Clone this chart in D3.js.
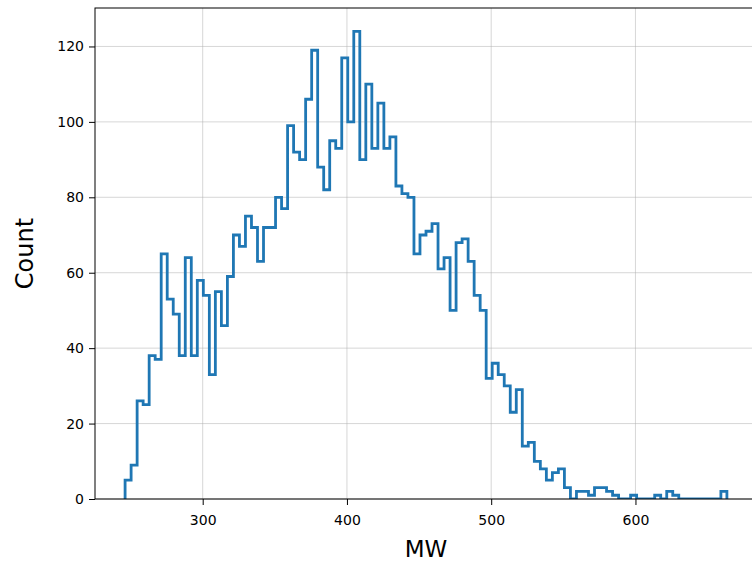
<!DOCTYPE html>
<html>
<head>
<meta charset="utf-8">
<script src="https://cdn.jsdelivr.net/npm/d3@7"></script>
<style>
  body { margin: 0; background: #fff; }
  svg { display: block; }
  text { font-family: "DejaVu Sans", sans-serif; fill: #000; }
</style>
</head>
<body>
<div id="chart"></div>
<script>
// histogram counts per bin (100 bins)
const counts = [
  5, 9, 26, 25, 38, 37, 65, 53, 49, 38,
  64, 38, 58, 54, 33, 55, 46, 59, 70, 67,
  75, 72, 63, 72, 72, 80, 77, 99, 92, 90,
  106, 119, 88, 82, 95, 93, 117, 100, 124, 90,
  110, 93, 105, 93, 96, 83, 81, 80, 65, 70,
  71, 73, 61, 64, 50, 68, 69, 63, 54, 50,
  32, 36, 33, 30, 23, 29, 14, 15, 10, 8,
  5, 7, 8, 3, 0, 2, 2, 1, 3, 3,
  2, 1, 0, 0, 1, 0, 0, 0, 1, 0,
  2, 1, 0, 0, 0, 0, 0, 0, 0, 2
];
const binStart = 246.2;   // MW
const binWidth = 4.172;   // MW
const xTicks = [300, 400, 500, 600];
const yTicks = [0, 20, 40, 60, 80, 100, 120];

const width = 752;
const height = 562;
const margin = {top: 8, left: 95, bottom: 63, right: -5}; // right spine falls just outside the window

const svg = d3.select("#chart")
    .append("svg")
    .attr("width", width)
    .attr("height", height);

const innerW = width - margin.left - margin.right;
const innerH = height - margin.top - margin.bottom;

const edges = d3.range(counts.length + 1).map(i => binStart + i * binWidth);
const lo = edges[0], hi = edges[edges.length - 1];
const pad = (hi - lo) * 0.05;

const x = d3.scaleLinear().domain([lo - pad, hi + pad]).range([0, innerW]);
const y = d3.scaleLinear().domain([0, d3.max(counts) * 1.05]).range([innerH, 0]);

const g = svg.append("g").attr("transform", `translate(${margin.left},${margin.top})`);

g.append("clipPath").attr("id", "clip")
  .append("rect").attr("width", innerW).attr("height", innerH);

// grid
g.append("g").selectAll("line").data(xTicks).enter().append("line")
    .attr("x1", d => x(d)).attr("x2", d => x(d))
    .attr("y1", 0).attr("y2", innerH)
    .attr("stroke", "#b0b0b0").attr("stroke-opacity", 0.5).attr("stroke-width", 1);
g.append("g").selectAll("line").data(yTicks).enter().append("line")
    .attr("x1", 0).attr("x2", innerW)
    .attr("y1", d => y(d)).attr("y2", d => y(d))
    .attr("stroke", "#b0b0b0").attr("stroke-opacity", 0.5).attr("stroke-width", 1);

// step outline
const pts = [[edges[0], 0]];
counts.forEach((c, i) => {
  pts.push([edges[i], c]);
  pts.push([edges[i + 1], c]);
});
pts.push([hi, 0]);

const line = d3.line().x(d => x(d[0])).y(d => y(d[1]));
g.append("path")
    .attr("d", line(pts))
    .attr("fill", "none")
    .attr("stroke", "#1f77b4")
    .attr("stroke-width", 2.8)
    .attr("stroke-linejoin", "miter")
    .attr("clip-path", "url(#clip)");

// axes
const xAxis = g.append("g").attr("transform", `translate(0,${innerH})`)
    .call(d3.axisBottom(x).tickValues(xTicks).tickSize(6).tickPadding(10).tickFormat(d3.format("d")));
const yAxis = g.append("g")
    .call(d3.axisLeft(y).tickValues(yTicks).tickSize(6).tickPadding(5).tickFormat(d3.format("d")));
[xAxis, yAxis].forEach(a => {
  a.select(".domain").remove();
  a.selectAll("line").attr("stroke", "#000").attr("stroke-width", 1);
  a.selectAll("text").attr("font-size", 14).attr("font-family", "DejaVu Sans");
});

// spines
g.append("rect")
    .attr("width", innerW).attr("height", innerH)
    .attr("fill", "none").attr("stroke", "#000").attr("stroke-width", 1);

// labels
svg.append("text")
    .attr("x", margin.left + innerW / 2)
    .attr("y", 557)
    .attr("text-anchor", "middle")
    .attr("font-size", 23)
    .text("MW");

svg.append("text")
    .attr("transform", `translate(33,${margin.top + innerH / 2}) rotate(-90)`)
    .attr("text-anchor", "middle")
    .attr("font-size", 24)
    .text("Count");
</script>
</body>
</html>
